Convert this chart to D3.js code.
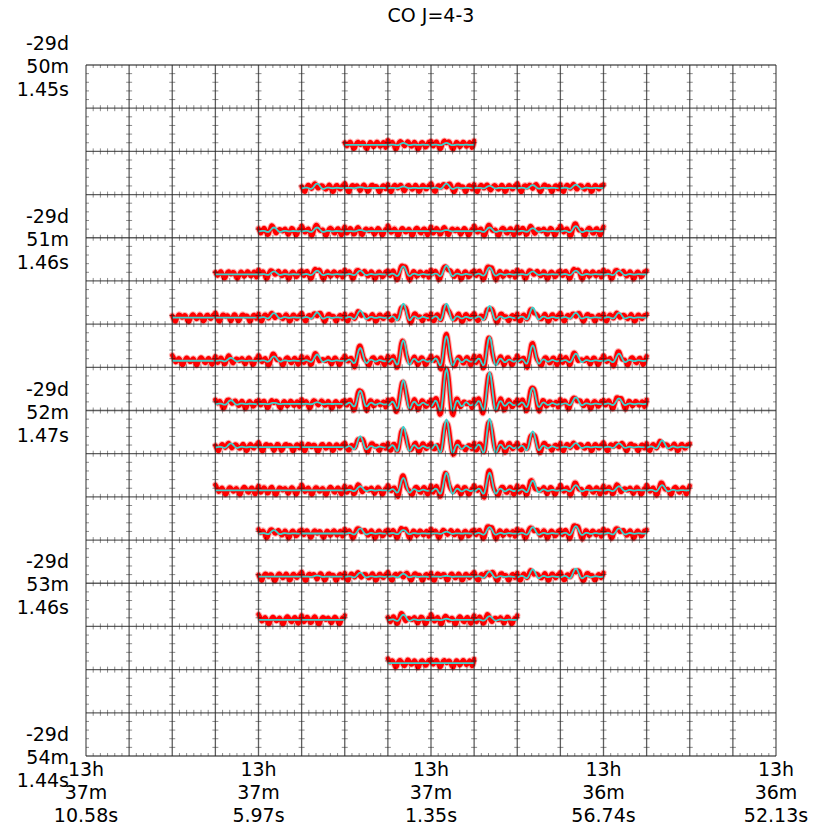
<!DOCTYPE html>
<html>
<head>
<meta charset="utf-8">
<script src="https://cdn.jsdelivr.net/npm/d3@7"></script>
<style>
  html, body { margin: 0; padding: 0; background: #fff; }
  svg { display: block; }
  text { font-family: "DejaVu Sans", sans-serif; fill: #000; }
</style>
</head>
<body>
<script>
// ---------- DATA ----------
const title = "CO J=4-3";

// RA tick labels (bottom), at column boundaries 0,4,8,12,16
const raTickCols = [0, 4, 8, 12, 16];
const raLabels = [
  ["13h", "37m", "10.58s"],
  ["13h", "37m", "5.97s"],
  ["13h", "37m", "1.35s"],
  ["13h", "36m", "56.74s"],
  ["13h", "36m", "52.13s"]
];

// Dec tick labels (left), at row boundaries 0,4,8,12,16
const decTickRows = [0, 4, 8, 12, 16];
const decLabels = [
  ["-29d", "50m", "1.45s"],
  ["-29d", "51m", "1.46s"],
  ["-29d", "52m", "1.47s"],
  ["-29d", "53m", "1.46s"],
  ["-29d", "54m", "1.44s"]
];

// line profile (model) shape across the 40 channels of one cell, peak = 1
const profile = [-0.06,-0.05,0.00,0.06,0.09,0.07,0.00,-0.11,-0.19,-0.17,
                 0.00,0.30,0.64,0.90,1.00,0.90,0.64,0.30,0.00,-0.17,
                 -0.19,-0.11,0.00,0.07,0.09,0.06,0.00,-0.05,-0.06,-0.04,
                 0.00,0.04,0.05,0.03,0.00,-0.03,-0.04,-0.03,0.00,0.02];

// residual noise patterns (observed - model)
const noise0 = [0.15,0.10,0.02,-0.04,-0.02,0.04,0.07,0.03,-0.05,-0.12,-0.10,-0.02,0.05,0.08,0.06,0.01,-0.03,-0.02,0.03,0.06,0.02,-0.07,-0.13,-0.09,0.00,0.06,0.09,0.07,0.02,-0.04,-0.06,-0.01,0.05,0.07,0.03,-0.06,-0.11,-0.05,0.05,0.12];
const noise1 = [0.05,-0.02,-0.09,-0.11,-0.04,0.04,0.08,0.07,0.03,0.00,0.02,0.06,0.05,-0.03,-0.10,-0.12,-0.06,0.02,0.07,0.08,0.04,-0.01,-0.04,-0.02,0.04,0.08,0.05,-0.04,-0.10,-0.08,0.00,0.06,0.07,0.03,-0.02,-0.03,0.02,0.07,0.04,0.09];
const noise2 = [0.12,0.07,0.02,0.04,0.07,0.03,-0.06,-0.12,-0.09,0.00,0.06,0.08,0.05,0.00,-0.05,-0.08,-0.04,0.04,0.09,0.07,0.01,-0.04,-0.03,0.03,0.07,0.04,-0.05,-0.13,-0.10,-0.02,0.05,0.07,0.04,-0.02,-0.07,-0.05,0.02,0.08,0.06,0.10];
const noise3 = [0.08,0.01,-0.06,-0.03,0.04,0.08,0.05,-0.02,-0.08,-0.07,0.00,0.07,0.09,0.04,-0.04,-0.11,-0.12,-0.05,0.03,0.07,0.06,0.02,0.00,0.03,0.06,0.02,-0.06,-0.09,-0.04,0.04,0.08,0.06,0.00,-0.07,-0.12,-0.08,0.01,0.06,0.05,0.12];
const noise4 = [0.13,0.06,-0.03,-0.10,-0.11,-0.03,0.05,0.08,0.06,0.03,0.04,0.06,0.02,-0.06,-0.10,-0.05,0.03,0.08,0.07,0.01,-0.06,-0.10,-0.06,0.02,0.07,0.08,0.05,0.03,0.05,0.04,-0.04,-0.11,-0.09,-0.01,0.05,0.07,0.03,-0.03,0.02,0.10];
const noise5 = [0.06,0.00,-0.04,0.00,0.06,0.08,0.03,-0.05,-0.11,-0.09,-0.01,0.06,0.08,0.04,0.00,0.02,0.06,0.05,-0.02,-0.09,-0.12,-0.06,0.02,0.07,0.05,-0.01,-0.06,-0.03,0.04,0.08,0.06,0.00,-0.05,-0.03,0.03,0.07,0.02,-0.08,-0.04,0.11];
const noises = [noise0, noise1, noise2, noise3, noise4, noise5];

// peak amplitude of the line in each map cell (row 0 = top); null = no spectrum
const _ = null;
const amp00 = [_,_,_,_,_,_,_,_,_,_,_,_,_,_,_,_];
const amp01 = [_,_,_,_,_,_,0.00,0.05,0.05,_,_,_,_,_,_,_];
const amp02 = [_,_,_,_,_,0.12,0.02,0.04,0.12,0.06,0.08,0.09,_,_,_,_];
const amp03 = [_,_,_,_,0.10,0.10,0.03,0.00,0.03,0.10,0.08,0.14,_,_,_,_];
const amp04 = [_,_,_,0.00,0.08,0.10,0.10,0.22,0.24,0.19,0.08,0.10,0.10,_,_,_];
const amp05 = [_,_,0.00,0.00,0.12,0.14,0.19,0.38,0.38,0.32,0.27,0.13,0.13,_,_,_];
const amp06 = [_,_,0.00,0.08,0.12,0.17,0.35,0.56,0.67,0.65,0.42,0.19,0.19,_,_,_];
const amp07 = [_,_,_,0.10,0.03,0.05,0.36,0.65,0.96,0.87,0.44,0.18,0.15,_,_,_];
const amp08 = [_,_,_,0.10,0.00,0.00,0.30,0.56,0.76,0.78,0.43,0.11,0.10,0.18,_,_];
const amp09 = [_,_,_,0.00,0.00,0.00,0.11,0.34,0.48,0.48,0.26,0.14,0.11,0.14,_,_];
const amp10 = [_,_,_,_,0.09,0.00,0.14,0.10,0.05,0.17,0.17,0.20,0.14,_,_,_];
const amp11 = [_,_,_,_,0.00,0.03,0.11,0.08,0.02,0.14,0.20,0.22,_,_,_,_];
const amp12 = [_,_,_,_,0.00,0.00,_,0.14,0.03,0.10,_,_,_,_,_,_];
const amp13 = [_,_,_,_,_,_,_,0.00,0.00,_,_,_,_,_,_,_];
const amp14 = [_,_,_,_,_,_,_,_,_,_,_,_,_,_,_,_];
const amp15 = [_,_,_,_,_,_,_,_,_,_,_,_,_,_,_,_];
const ampRows = [amp00,amp01,amp02,amp03,amp04,amp05,amp06,amp07,
                 amp08,amp09,amp10,amp11,amp12,amp13,amp14,amp15];

// ---------- LAYOUT ----------
(function draw() {
const W = 814, H = 832;
const gLeft = 86, gRight = 776, gTop = 65, gBottom = 756;
const nCols = 16, nRows = 16;

const svg = d3.select("body").append("svg").attr("width", W).attr("height", H);

const xCol = d3.scaleLinear().domain([0, nCols]).range([gLeft, gRight]);
const yRow = d3.scaleLinear().domain([0, nRows]).range([gTop, gBottom]);
const chanIdx = d3.range(profile.length);

// ---------- SPECTRA ----------
const cells = [];
ampRows.forEach((row, r) => row.forEach((a, c) => {
  if (a !== null) cells.push({ r, c, a, noise: noises[(r * 5 + c * 3) % noises.length] });
}));

const specG = svg.append("g");
cells.forEach(cell => {
  const xs = d3.scaleLinear().domain([0, profile.length - 1]).range([xCol(cell.c), xCol(cell.c + 1)]);
  const ys = d3.scaleLinear().domain([-0.18, 1.0]).range([yRow(cell.r + 1), yRow(cell.r)]);
  const model = profile.map(v => v * cell.a);
  const obs = model.map((v, i) => v + cell.noise[i]);
  const line = d3.line().x(i => xs(i)).curve(d3.curveCatmullRom);
  const g = specG.append("g");
  g.append("path").attr("d", line.y(i => ys(obs[i]))(chanIdx))
    .attr("fill", "none").attr("stroke", "rgba(255,0,0,0.3)").attr("stroke-width", 6.5)
    .attr("stroke-linejoin", "round").attr("stroke-linecap", "round");
  g.append("path").attr("d", line.y(i => ys(obs[i]))(chanIdx))
    .attr("fill", "none").attr("stroke", "#ff0000").attr("stroke-width", 4.4)
    .attr("stroke-linejoin", "round").attr("stroke-linecap", "round");
  g.append("path").attr("d", line.y(i => ys(model[i]))(chanIdx))
    .attr("fill", "none").attr("stroke", "#3cd2cc").attr("stroke-width", 1.8)
    .attr("stroke-linejoin", "round");
});

// ---------- GRID + TICKS ----------
const gridG = svg.append("g");
const tickG = gridG.append("g").attr("stroke", "rgba(0,0,0,0.45)").attr("stroke-width", 1);
const tl = 3;
for (let r = 0; r < nRows; r++) {
  for (let c = 0; c < nCols; c++) {
    const x0 = xCol(c), x1 = xCol(c + 1), y0 = yRow(r), y1 = yRow(r + 1);
    for (let k = 1; k < 6; k++) {
      const x = x0 + (x1 - x0) * k / 6;
      tickG.append("line").attr("x1", x).attr("x2", x).attr("y1", y0).attr("y2", y0 + tl);
      tickG.append("line").attr("x1", x).attr("x2", x).attr("y1", y1).attr("y2", y1 - tl);
    }
    for (let k = 1; k < 5; k++) {
      const y = y0 + (y1 - y0) * k / 5;
      tickG.append("line").attr("x1", x0).attr("x2", x0 + tl).attr("y1", y).attr("y2", y);
      tickG.append("line").attr("x1", x1).attr("x2", x1 - tl).attr("y1", y).attr("y2", y);
    }
  }
}
const lineG = gridG.append("g").attr("stroke", "rgba(40,40,40,0.75)").attr("stroke-width", 1.3);
d3.range(nCols + 1).forEach(c => {
  lineG.append("line").attr("x1", xCol(c)).attr("x2", xCol(c)).attr("y1", gTop).attr("y2", gBottom);
});
d3.range(nRows + 1).forEach(r => {
  lineG.append("line").attr("x1", gLeft).attr("x2", gRight).attr("y1", yRow(r)).attr("y2", yRow(r));
});

// ---------- AXIS LABELS ----------
const fs = 19;
const xAxisG = svg.append("g");
raTickCols.forEach((c, i) => {
  const t = xAxisG.append("text").attr("text-anchor", "middle").attr("font-size", fs);
  raLabels[i].forEach((s, j) => {
    t.append("tspan").attr("x", xCol(c)).attr("y", gBottom + 20 + j * 23).text(s);
  });
});
const yAxisG = svg.append("g");
decTickRows.forEach((r, i) => {
  const t = yAxisG.append("text").attr("text-anchor", "end").attr("font-size", fs);
  decLabels[i].forEach((s, j) => {
    t.append("tspan").attr("x", 69).attr("y", yRow(r) - 15 + j * 23).text(s);
  });
});

svg.append("text").attr("x", (gLeft + gRight) / 2).attr("y", 22)
  .attr("text-anchor", "middle").attr("font-size", fs).text(title);
})();
</script>
</body>
</html>
